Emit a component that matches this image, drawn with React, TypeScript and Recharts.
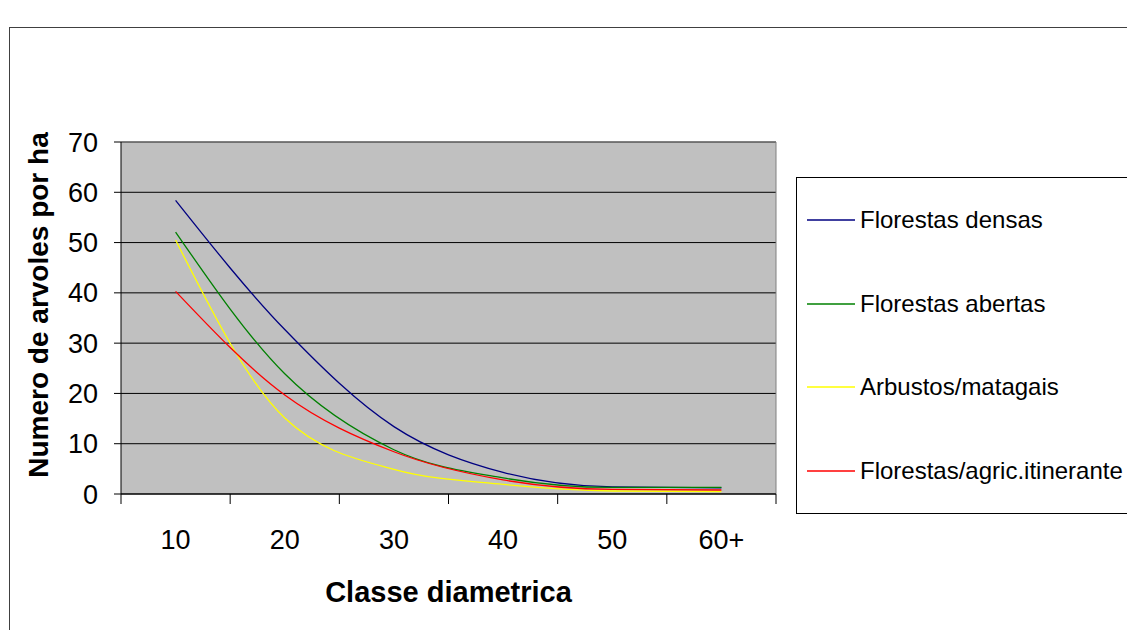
import { LineChart, Line, XAxis, YAxis, CartesianGrid, ReferenceLine, Legend } from "recharts";

// ─── Data ───────────────────────────────────────────────────────────

const categories = ["10", "20", "30", "40", "50", "60+"];

const florestasDensas = [58.4, 32.7, 13.4, 4.3, 1.4, 1.2];
const florestasAbertas = [52.1, 23.9, 8.8, 3.2, 1.3, 1.3];
const arbustosMatagais = [50.5, 15.1, 4.9, 1.9, 0.6, 0.5];
const florestasAgric = [40.3, 19.7, 8.4, 2.8, 0.9, 0.8];

const yTicks = [0, 10, 20, 30, 40, 50, 60, 70];

const FONT = "'Liberation Sans', Arial, Helvetica, sans-serif";

const seriesDefs = [
  { key: "densas", name: "Florestas densas", values: florestasDensas, color: "#000080" },
  { key: "abertas", name: "Florestas abertas", values: florestasAbertas, color: "#008000" },
  { key: "arbustos", name: "Arbustos/matagais", values: arbustosMatagais, color: "#FFFF00" },
  { key: "agric", name: "Florestas/agric.itinerante", values: florestasAgric, color: "#FF0000" },
];

// one row per class, placed in the middle of its slot on a 0..n axis
const chartData = categories.map((label, i) => {
  const row: Record<string, number | string> = { label, pos: i + 0.5 };
  seriesDefs.forEach((s) => {
    row[s.key] = s.values[i];
  });
  return row;
});

const xDomain: [number, number] = [0, categories.length];
const boundaryTicks = categories.map((_, i) => i).concat(categories.length);
const centerTicks = categories.map((_, i) => i + 0.5);

// ─── Axis props (kept stable so the axes register once, in order) ───

const tickStyle = { fill: "#000", fontSize: 27, fontFamily: FONT };
const formatClass = (v: number) => categories[Math.floor(v)];
const emptyTick = () => <g />;

const xTitle = {
  value: "Classe diametrica",
  position: "insideBottom" as const,
  offset: 28,
  style: { fill: "#000", fontSize: 29, fontWeight: "bold", fontFamily: FONT },
};

const yTitle = {
  value: "Numero de arvoles por ha",
  angle: -90,
  position: "insideLeft" as const,
  offset: -23,
  dy: -13,
  style: {
    textAnchor: "middle" as const,
    fill: "#000",
    fontSize: 28,
    fontWeight: "bold",
    fontFamily: FONT,
  },
};

// ─── Legend ─────────────────────────────────────────────────────────

function LegendBox({ payload }: { payload?: any[] }) {
  const items = seriesDefs
    .map((s) => (payload ?? []).find((p) => p.dataKey === s.key))
    .filter(Boolean);

  return (
    <div
      style={{
        boxSizing: "border-box",
        width: 340,
        height: 337,
        border: "1px solid #000",
        background: "#fff",
        display: "flex",
        flexDirection: "column",
      }}
    >
      {items.map((entry: any) => (
        <div
          key={entry.dataKey}
          style={{ flex: 1, display: "flex", alignItems: "center", paddingLeft: 10 }}
        >
          <svg width={48} height={4} style={{ display: "block" }}>
            <line x1={0} x2={48} y1={2} y2={2} stroke={entry.color} strokeWidth={1.3} />
          </svg>
          <span
            style={{
              marginLeft: 5,
              fontSize: 24,
              fontFamily: FONT,
              color: "#000",
              whiteSpace: "nowrap",
            }}
          >
            {entry.value}
          </span>
        </div>
      ))}
    </div>
  );
}

const legendBox = <LegendBox />;
const legendWrapper = { left: 796, top: 177, width: 340, height: 337 };

// ─── Chart ──────────────────────────────────────────────────────────

export default function App() {
  return (
    <div style={{ position: "relative", width: 1127, height: 630, overflow: "hidden", background: "#fff" }}>
      <style>{"body{margin:0;overflow:hidden}"}</style>

      {/* outer chart frame */}
      <div
        style={{
          position: "absolute",
          left: 9,
          top: 27,
          width: 1200,
          height: 700,
          border: "1px solid #404040",
        }}
      />

      <LineChart
        width={1127}
        height={630}
        data={chartData}
        margin={{ top: 142, right: 351, bottom: 0, left: 61 }}
      >
        <CartesianGrid
          xAxisId="a"
          vertical={false}
          stroke="#000"
          fill="#C0C0C0"
          fillOpacity={1}
        />

        {/* tick marks between classes */}
        <XAxis
          xAxisId="a"
          type="number"
          dataKey="pos"
          domain={xDomain}
          ticks={boundaryTicks}
          interval={0}
          tick={emptyTick}
          tickSize={10}
          height={12}
          stroke="#000"
        />
        {/* class labels, centred in each slot */}
        <XAxis
          xAxisId="b"
          type="number"
          dataKey="pos"
          domain={xDomain}
          ticks={centerTicks}
          interval={0}
          tickFormatter={formatClass}
          axisLine={false}
          tickLine={false}
          tickSize={0}
          tickMargin={24}
          height={124}
          tick={tickStyle}
          label={xTitle}
        />
        <YAxis
          type="number"
          domain={[0, 70]}
          ticks={yTicks}
          interval={0}
          width={60}
          tickSize={7}
          tickMargin={16}
          stroke="#000"
          tick={tickStyle}
          label={yTitle}
        />

        {/* plot frame, top and right */}
        <ReferenceLine xAxisId="a" y={70} stroke="#808080" />
        <ReferenceLine xAxisId="a" x={categories.length} stroke="#808080" />

        <Legend
          layout="vertical"
          align="center"
          verticalAlign="middle"
          content={legendBox}
          wrapperStyle={legendWrapper}
        />

        {seriesDefs.map((s) => (
          <Line
            key={s.key}
            xAxisId="a"
            type="monotone"
            dataKey={s.key}
            name={s.name}
            stroke={s.color}
            strokeWidth={1.3}
            dot={false}
            activeDot={false}
            isAnimationActive={false}
          />
        ))}
      </LineChart>
    </div>
  );
}
